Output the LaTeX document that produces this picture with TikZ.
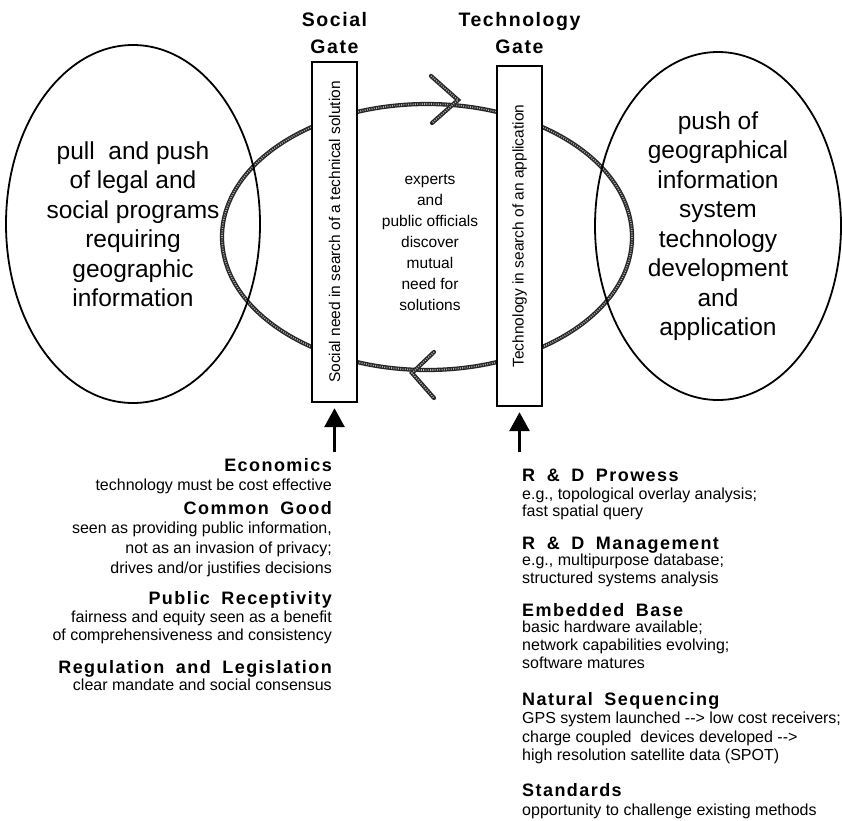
\documentclass[tikz,border=0pt]{standalone}
\usepackage{fontspec}
\setmainfont{Liberation Sans}
\newfontfamily\gatefont[LetterSpace=8,WordSpace=1.8]{Liberation Sans}
\usetikzlibrary{arrows.meta,shapes.geometric}

\tikzset{
  goal/.style={draw, line width=1.8pt, ellipse, inner sep=0pt, align=center,
    font=\fontsize{24.5}{29.5}\selectfont},
  gatebox/.style={draw, line width=2.4pt, fill=white, minimum width=45pt,
    minimum height=340pt, inner sep=0pt, font=\fontsize{15.5}{18}\selectfont},
  gatename/.style={align=center, font=\gatefont\bfseries\fontsize{19.5}{27}\selectfont},
  cycleline/.style={line width=4.2pt, draw=black!85, line cap=round},
  grain/.style={line width=1.6pt, white!70!black, dash pattern=on 0.9pt off 1.4pt},
  forcearrow/.style={line width=3pt, -{Triangle[length=19pt,width=20pt]}, shorten >=5pt},
  fhead/.style={font=\gatefont\bfseries\fontsize{18}{20}\selectfont, inner sep=0pt},
  fbody/.style={font=\fontsize{16}{19}\selectfont, inner sep=0pt},
}

\begin{document}
\begin{tikzpicture}[x=1pt,y=-1pt]
  \fill[white] (0,0) rectangle (842,820);
  \useasboundingbox (0,0) rectangle (842,820);

  % the discovery cycle between the two gates
  \draw[cycleline] (427,237) ellipse [x radius=205, y radius=133];
  \draw[grain] (427,237) ellipse [x radius=205, y radius=133];
  \draw[cycleline] (431,76) -- (458,100) -- (432,123);
  \draw[grain] (431,76) -- (458,100) -- (432,123);
  \draw[cycleline] (434,352) -- (412,373) -- (434,398);
  \draw[grain] (434,352) -- (412,373) -- (434,398);

  % gates
  \node[gatebox] (socgate) at (334.5,232) {\rotatebox{90}{Social need in search of a technical solution}};
  \node[gatebox] (techgate) at (519.5,236) {\rotatebox{90}{Technology in search of an application}};
  \node[gatename] (socname) at (334.5,33) {Social\\Gate};
  \node[gatename] (techname) at (519.5,33) {Technology\\Gate};

  % driving forces on each side
  \node[goal, minimum width=254pt, minimum height=358pt] (social) at (133,224)
    {pull\ \ and push\\of legal and\\social programs\\requiring\\geographic\\information};
  \node[goal, minimum width=246pt, minimum height=348pt] (tech) at (718,226)
    {push of\\geographical\\information\\system\\technology\\development\\and\\application};

  \node[align=center, font=\fontsize{15.5}{21}\selectfont] (meet) at (430,243)
    {experts\\and\\public officials\\discover\\mutual\\need for\\solutions};

  % arrows into the gates
  \coordinate (socfoot) at (334.5,452);
  \coordinate (techfoot) at (519.5,452);
  \draw[forcearrow] (socfoot) -- (socgate.south);
  \draw[forcearrow] (techfoot) -- (techgate.south);

  % social conditions
  \foreach \yy/\txt [count=\i] in {471/Economics, 514/Common Good,
      604/Public Receptivity, 673/Regulation and Legislation}
    \node[fhead, anchor=base east] (lh\i) at (332,\yy) {\txt};
  \foreach \yy/\txt [count=\i] in {490/technology must be cost effective,
      533/{seen as providing public information,},
      553/not as an invasion of privacy;,
      573/{drives and/or justifies decisions},
      622/fairness and equity seen as a benefit,
      640/of comprehensiveness and consistency,
      690/clear mandate and social consensus}
    \node[fbody, anchor=base east] (lb\i) at (332,\yy) {\txt};

  % technical conditions
  \foreach \yy/\txt [count=\i] in {481/R \& D Prowess, 549/R \& D Management,
      616/Embedded Base, 705/Natural Sequencing, 796/Standards}
    \node[fhead, anchor=base west] (rh\i) at (522,\yy) {\txt};
  \foreach \yy/\txt [count=\i] in {{499/e.g., topological overlay analysis;},
      516/fast spatial query,
      {565/e.g., multipurpose database;},
      583/structured systems analysis,
      632/basic hardware available;,
      650/network capabilities evolving;,
      668/software matures,
      723/GPS system launched -\kern0pt-> low cost receivers;,
      742/charge coupled\ \ devices developed -\kern0pt->,
      760/high resolution satellite data (SPOT),
      815/opportunity to challenge existing methods}
    \node[fbody, anchor=base west] (rb\i) at (522,\yy) {\txt};
\end{tikzpicture}
\end{document}
